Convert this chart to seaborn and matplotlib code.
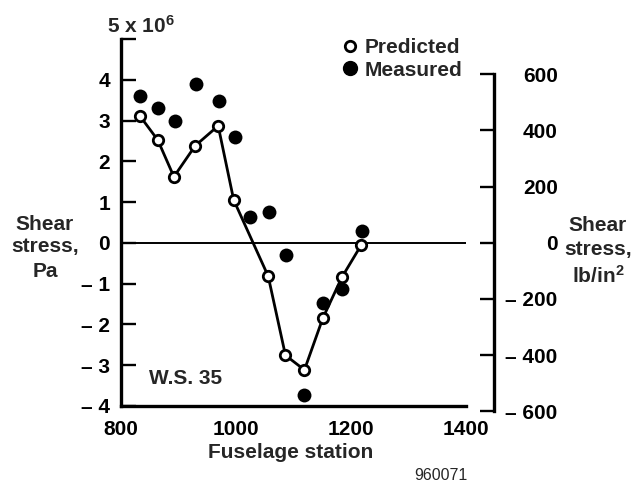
import matplotlib
matplotlib.use("Agg")
import matplotlib.pyplot as plt
import seaborn as sns
import pandas as pd
from matplotlib.lines import Line2D

# ---- data ----
pred_station = [833, 864, 892, 929, 969, 996, 1056, 1086, 1119, 1151, 1184, 1218]
pred_stress = [3.11, 2.52, 1.62, 2.38, 2.87, 1.05, -0.82, -2.76, -3.12, -1.85, -0.85, -0.05]
meas_station = [833, 864, 894, 930, 970, 998, 1024, 1058, 1087, 1119, 1151, 1185, 1219]
meas_stress = [3.60, 3.31, 2.99, 3.90, 3.48, 2.60, 0.63, 0.76, -0.29, -3.74, -1.48, -1.14, 0.30]

x_ticks = [800, 1000, 1200, 1400]
x_tick_labels = ["800", "1000", "1200", "1400"]
left_ticks = [-4, -3, -2, -1, 0, 1, 2, 3, 4, 5]
left_tick_labels = ["\u2013 4", "\u2013 3", "\u2013 2", "\u2013 1", "0", "1", "2", "3", "4", ""]
right_ticks = [-600, -400, -200, 0, 200, 400, 600]
right_tick_labels = ["\u2013 600", "\u2013 400", "\u2013 200", "0", "200", "400", "600"]
PA_PER_PSI = 6894.76

pred_df = pd.DataFrame({"station": pred_station, "stress": pred_stress})
meas_df = pd.DataFrame({"station": meas_station, "stress": meas_stress})

sns.set_style("white")
plt.rcParams["font.family"] = ["Liberation Sans", "DejaVu Sans"]
plt.rcParams["font.weight"] = "bold"
plt.rcParams["mathtext.fontset"] = "custom"
plt.rcParams["mathtext.rm"] = "Liberation Sans:bold"
plt.rcParams["mathtext.bf"] = "Liberation Sans:bold"
plt.rcParams["mathtext.it"] = "Liberation Sans:bold"

W, H = 636, 483
def px(x, y):
    return (x / W, 1 - y / H)

FS = 15
fig = plt.figure(figsize=(6.36, 4.83), dpi=100)
ax = fig.add_axes([121 / W, 1 - 416 / H, 345 / W, (416 - 39) / H])
ax.set_xlim(800, 1400)
ax.set_ylim(-4.25, 5)

ax.axhline(0, color="black", lw=1.4, zorder=1)
sns.lineplot(data=pred_df, x="station", y="stress", ax=ax, color="black",
             lw=2.0, marker="o", markersize=7.5, markerfacecolor="white",
             markeredgecolor="black", markeredgewidth=2.0, zorder=3)
sns.scatterplot(data=meas_df, x="station", y="stress", ax=ax, color="black",
                s=100, edgecolor="black", linewidth=0, zorder=4)

for s in ["top", "right"]:
    ax.spines[s].set_visible(False)
for s in ["left", "bottom"]:
    ax.spines[s].set_linewidth(2.4)
    ax.spines[s].set_color("black")
ax.spines["left"].set_bounds(-4, 5)
ax.spines["bottom"].set_position(("data", -4))
ax.spines["bottom"].set_bounds(800, 1400)

ax.set_xticks(x_ticks)
ax.set_xticklabels(x_tick_labels)
ax.set_yticks(left_ticks)
ax.set_yticklabels(left_tick_labels)
ax.tick_params(axis="both", direction="in", length=10.5, width=1.7,
               colors="black", labelsize=FS)
ax.tick_params(axis="x", pad=10)
ax.tick_params(axis="y", pad=8)
ax.set_xlabel("")
ax.set_ylabel("")

ax2 = ax.twinx()
lo, hi = ax.get_ylim()
ax2.set_ylim(lo * 1e6 / PA_PER_PSI, hi * 1e6 / PA_PER_PSI)
for s in ["top", "left", "bottom"]:
    ax2.spines[s].set_visible(False)
ax2.spines["right"].set_position(("outward", 20))
ax2.spines["right"].set_bounds(-600, 600)
ax2.spines["right"].set_linewidth(2.4)
ax2.spines["right"].set_color("black")
ax2.set_yticks(right_ticks)
ax2.set_yticklabels(right_tick_labels)
ax2.tick_params(axis="y", direction="in", length=10, width=1.7,
                colors="black", labelsize=FS, pad=46)
for t in ax2.get_yticklabels():
    t.set_horizontalalignment("right")

# legend
handles = [
    Line2D([], [], ls="none", marker="o", markersize=7.5, markerfacecolor="white",
           markeredgecolor="black", markeredgewidth=2.0),
    Line2D([], [], ls="none", marker="o", markersize=10, markerfacecolor="black",
           markeredgecolor="black"),
]
fig.legend(handles, ["Predicted", "Measured"], loc="upper left",
           bbox_to_anchor=px(343, 38), frameon=False, fontsize=FS,
           handlelength=0.65, handletextpad=0.4, labelspacing=0.18,
           borderpad=0, borderaxespad=0)

# texts
fig.text(*px(107, 33), "5 x 10$^{6}$", fontsize=FS, ha="left", va="baseline")
for txt, y in [("Shear", 230), ("stress,", 252), ("Pa", 277)]:
    fig.text(*px(45, y), txt, fontsize=FS, ha="center", va="baseline")
for txt, y in [("Shear", 231), ("stress,", 255), ("lb/in$^{2}$", 283)]:
    fig.text(*px(598, y), txt, fontsize=FS, ha="center", va="baseline")
fig.text(*px(186, 384), "W.S. 35", fontsize=FS, ha="center", va="baseline")
fig.text(*px(291, 452), "Fuselage station", fontsize=FS, ha="center", va="center")
fig.text(*px(441, 475), "960071", fontsize=11.5, fontweight="normal",
         ha="center", va="center")

fig.savefig("out.png", dpi=100)
